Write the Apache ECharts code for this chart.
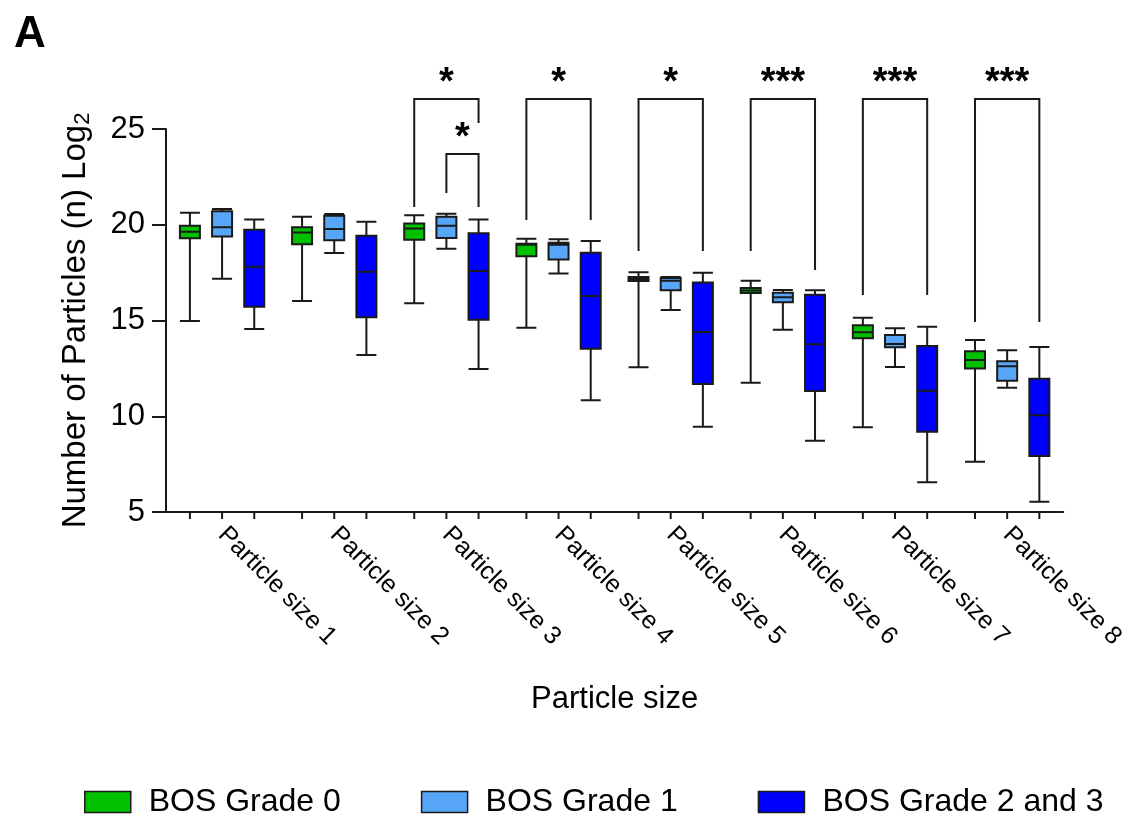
<!DOCTYPE html>
<html>
<head>
<meta charset="utf-8">
<script src="https://cdn.jsdelivr.net/npm/echarts@6/dist/echarts.min.js"></script>
<style>
  html, body { margin: 0; background: #fff; }
  #chart { width: 1127px; height: 816px; }
</style>
</head>
<body>
<div id="chart"></div>
<script>
// categories on x
const categories = ['Particle size 1', 'Particle size 2', 'Particle size 3', 'Particle size 4',
    'Particle size 5', 'Particle size 6', 'Particle size 7', 'Particle size 8']
const seriesNames = ['BOS Grade 0', 'BOS Grade 1', 'BOS Grade 2 and 3']
const yTicks = [5, 10, 15, 20, 25]
// box values: [min, Q1, median, Q3, max]
const grade0 = [
    [14.97, 19.29, 19.64, 19.95, 20.63],
    [16.02, 18.98, 19.59, 19.87, 20.42],
    [15.90, 19.22, 19.81, 20.07, 20.49],
    [14.62, 18.35, 18.95, 19.01, 19.27],
    [12.56, 17.06, 17.17, 17.27, 17.52],
    [11.75, 16.44, 16.57, 16.70, 17.08],
    [9.42, 14.07, 14.38, 14.75, 15.15],
    [7.63, 12.50, 12.94, 13.39, 13.98]
]
const grade1 = [
    [17.18, 19.38, 19.87, 20.70, 20.82],
    [18.52, 19.19, 19.78, 20.47, 20.56],
    [18.75, 19.31, 19.95, 20.42, 20.58],
    [17.46, 18.18, 18.95, 19.06, 19.24],
    [15.55, 16.58, 17.08, 17.22, 17.27],
    [14.52, 15.95, 16.21, 16.45, 16.59],
    [12.57, 13.60, 13.77, 14.24, 14.59],
    [11.49, 11.86, 12.61, 12.87, 13.44]
]
const grade23 = [
    [14.56, 15.72, 17.81, 19.74, 20.28],
    [13.20, 15.17, 17.55, 19.43, 20.16],
    [12.47, 15.04, 17.58, 19.55, 20.28],
    [10.83, 13.53, 16.28, 18.54, 19.15],
    [9.45, 11.68, 14.40, 16.99, 17.50],
    [8.72, 11.32, 13.76, 16.35, 16.58],
    [6.55, 9.19, 11.33, 13.67, 14.68],
    [5.54, 7.92, 10.05, 11.96, 13.62]
]
// significance brackets: category, from series, to series, top, left leg end, right leg end, star level, label
const brackets = [
    [2, 0, 2, 26.57, 20.93, 25.31, 27.35, '*'],
    [2, 1, 2, 23.69, 21.66, 20.93, 24.5, '*'],
    [3, 0, 2, 26.57, 20.25, 20.25, 27.35, '*'],
    [4, 0, 2, 26.57, 18.63, 18.63, 27.35, '*'],
    [5, 0, 2, 26.57, 18.63, 17.64, 27.35, '***'],
    [6, 0, 2, 26.57, 16.33, 16.33, 27.35, '***'],
    [7, 0, 2, 26.57, 14.92, 14.92, 27.35, '***']
]

const colors = ['#00c000', '#58a6f8', '#0000ff']
const lineColor = '#1a1a1a'
const font = 'Liberation Sans, Arial, sans-serif'

const chart = echarts.init(document.getElementById('chart'))

// same spacing rule that echarts boxplot layout uses for side by side series
const boxOffset = (bandWidth, idx, count) => {
    const avail = bandWidth * 0.8 - 2
    const gap = avail / count * 0.3
    const w = (avail - gap * (count - 1)) / count
    return w / 2 - avail / 2 + idx * (gap + w)
}

const boxSeries = [grade0, grade1, grade23].map((data, i) => ({
    name: seriesNames[i],
    type: 'boxplot',
    data: data,
    boxWidth: [20, 20],
    itemStyle: { color: colors[i], borderColor: lineColor, borderWidth: 2 },
    emphasis: { disabled: true },
    z: 3
}))

//小刻度：每个箱子下方一根
const tickSeries = {
    type: 'custom',
    silent: true,
    data: categories.map((c, i) => [i]),
    encode: { x: 0 },
    renderItem: (params, api) => {
        const p = api.coord([api.value(0), yTicks[0]])
        const bw = api.size([1, 0])[0]
        const children = seriesNames.map((n, k) => {
            const x = p[0] + boxOffset(bw, k, seriesNames.length)
            return {
                type: 'line',
                shape: { x1: x, y1: p[1], x2: x, y2: p[1] + 7 },
                style: { stroke: lineColor, lineWidth: 2 }
            }
        })
        return { type: 'group', children }
    }
}

//显著性标记
const bracketSeries = {
    type: 'custom',
    silent: true,
    clip: false,
    data: brackets,
    encode: { x: 0, y: 3 },
    renderItem: (params, api) => {
        const b = brackets[params.dataIndex]
        const bw = api.size([1, 0])[0]
        const c = api.coord([b[0], b[3]])
        const x1 = c[0] + boxOffset(bw, b[1], 3)
        const x2 = c[0] + boxOffset(bw, b[2], 3)
        const yl = api.coord([b[0], b[4]])[1]
        const yr = api.coord([b[0], b[5]])[1]
        const ys = api.coord([b[0], b[6]])[1]
        return {
            type: 'group',
            children: [
                {
                    type: 'polyline',
                    shape: { points: [[x1, yl], [x1, c[1]], [x2, c[1]], [x2, yr]] },
                    style: { stroke: lineColor, lineWidth: 2, fill: null }
                },
                {
                    type: 'text',
                    style: {
                        x: (x1 + x2) / 2, y: ys, text: b[7],
                        align: 'center', verticalAlign: 'middle',
                        font: 'bold 38px ' + font, fill: '#000'
                    }
                }
            ]
        }
    }
}

const option = {
    animation: false,
    backgroundColor: '#fff',
    textStyle: { fontFamily: font, color: '#000' },
    title: {
        text: 'A', left: 9, top: 8,
        textStyle: { fontSize: 44, fontWeight: 'bold', color: '#000', fontFamily: font }
    },
    grid: { left: 166, width: 916, top: 129, bottom: 304 },
    legend: {
        data: seriesNames.map((n, i) => ({
            name: n,
            icon: 'rect',
            itemStyle: { color: colors[i], borderColor: lineColor, borderWidth: 1.5 }
        })),
        left: 84, top: 786,
        itemWidth: 46, itemHeight: 21, itemGap: 80,
        padding: 0,
        selectedMode: false,
        textStyle: { fontSize: 32, color: '#000', fontFamily: font, padding: [0, 0, 0, 13] }
    },
    xAxis: {
        type: 'category',
        data: categories,
        name: 'Particle size',
        nameLocation: 'middle',
        nameGap: 172,
        nameTextStyle: { fontSize: 31, color: '#000' },
        axisLine: { lineStyle: { color: lineColor, width: 2 } },
        axisTick: { show: false },
        axisLabel: { rotate: -45, fontSize: 25, color: '#000', margin: 19 },
        splitLine: { show: false }
    },
    yAxis: {
        type: 'value',
        min: yTicks[0], max: yTicks[yTicks.length - 1], interval: 5,
        name: 'Number of Particles (n) Log{sub|2}',
        nameLocation: 'middle',
        nameGap: 72,
        nameTextStyle: {
            fontSize: 33, color: '#000',
            rich: { sub: { fontSize: 22, verticalAlign: 'bottom', padding: [14, 0, 0, 0] } }
        },
        axisLine: { show: true, lineStyle: { color: lineColor, width: 2 } },
        axisTick: { show: true, length: 14, lineStyle: { color: lineColor, width: 2 } },
        axisLabel: { fontSize: 31, color: '#000', margin: 21 },
        splitLine: { show: false }
    },
    series: [...boxSeries, tickSeries, bracketSeries]
}
chart.setOption(option)
</script>
</body>
</html>
